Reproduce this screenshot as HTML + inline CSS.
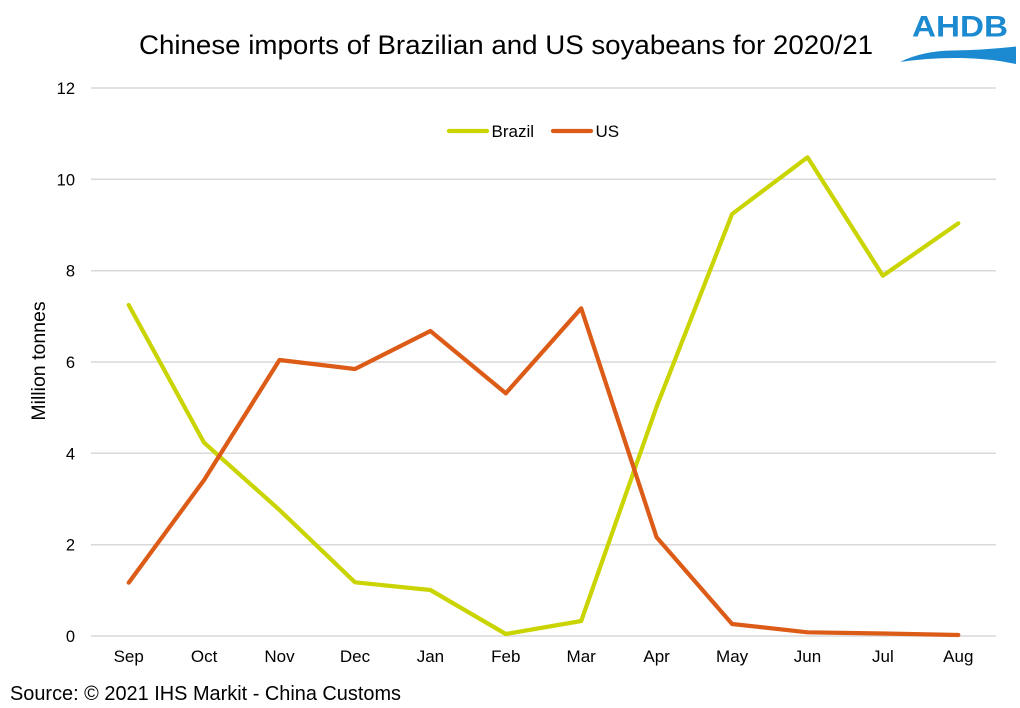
<!DOCTYPE html>
<html>
<head>
<meta charset="utf-8">
<style>
  html, body { margin: 0; padding: 0; background: #ffffff; }
  body { width: 1020px; height: 708px; overflow: hidden; }
  svg { display: block; }
  text { font-family: "Liberation Sans", Arial, sans-serif; fill: #000; }
</style>
</head>
<body>
<svg width="1020" height="708" viewBox="0 0 1020 708" xmlns="http://www.w3.org/2000/svg">
  <rect x="0" y="0" width="1020" height="708" fill="#ffffff"/>

  <!-- Title -->
  <text x="139" y="54" font-size="27" textLength="734" lengthAdjust="spacingAndGlyphs">Chinese imports of Brazilian and US soyabeans for 2020/21</text>

  <!-- Logo -->
  <text x="912" y="36.5" font-size="30" font-weight="bold" textLength="96" lengthAdjust="spacingAndGlyphs" style="fill:#1B8AD0">AHDB</text>
  <path d="M900,62 Q922,51 952,50.5 Q985,50 1016,46.5 L1016,64 Q990,58.5 962,58 Q930,57.5 900,62 Z" fill="#1B8AD0"/>

  <!-- Gridlines -->
  <g stroke="#D9D9D9" stroke-width="1.5">
    <line x1="91" y1="88" x2="996" y2="88"/>
    <line x1="91" y1="179.3" x2="996" y2="179.3"/>
    <line x1="91" y1="270.7" x2="996" y2="270.7"/>
    <line x1="91" y1="362" x2="996" y2="362"/>
    <line x1="91" y1="453.3" x2="996" y2="453.3"/>
    <line x1="91" y1="544.7" x2="996" y2="544.7"/>
    <line x1="91" y1="636" x2="996" y2="636"/>
  </g>

  <!-- Y tick labels -->
  <g font-size="16.5" text-anchor="end">
    <text x="75" y="94">12</text>
    <text x="75" y="185.3">10</text>
    <text x="75" y="276.7">8</text>
    <text x="75" y="368">6</text>
    <text x="75" y="459.3">4</text>
    <text x="75" y="550.7">2</text>
    <text x="75" y="642">0</text>
  </g>

  <!-- Y axis title -->
  <text transform="translate(45,361) rotate(-90)" font-size="19.5" text-anchor="middle">Million tonnes</text>

  <!-- X labels -->
  <g font-size="17" text-anchor="middle">
    <text x="128.7" y="662">Sep</text>
    <text x="204.1" y="662">Oct</text>
    <text x="279.5" y="662">Nov</text>
    <text x="355.0" y="662">Dec</text>
    <text x="430.4" y="662">Jan</text>
    <text x="505.8" y="662">Feb</text>
    <text x="581.2" y="662">Mar</text>
    <text x="656.6" y="662">Apr</text>
    <text x="732.1" y="662">May</text>
    <text x="807.5" y="662">Jun</text>
    <text x="882.9" y="662">Jul</text>
    <text x="958.3" y="662">Aug</text>
  </g>

  <!-- Series -->
  <polyline fill="none" stroke="#C9D400" stroke-width="4.2" stroke-linejoin="round" stroke-linecap="round"
    points="128.7,305 204.1,442.7 279.5,510 355.0,582.3 430.4,590 505.8,634 581.2,621 656.6,406.7 732.1,214 807.5,157.3 882.9,275.7 958.3,223.3"/>
  <polyline fill="none" stroke="#DC5B17" stroke-width="4.2" stroke-linejoin="round" stroke-linecap="round"
    points="128.7,582.7 204.1,480 279.5,360 355.0,369 430.4,331 505.8,393.3 581.2,308.3 656.6,537.3 732.1,624 807.5,632.3 882.9,633.5 958.3,635"/>

  <!-- Legend -->
  <line x1="449" y1="131" x2="487" y2="131" stroke="#C9D400" stroke-width="4.2" stroke-linecap="round"/>
  <text x="491.5" y="137" font-size="17">Brazil</text>
  <line x1="553" y1="131" x2="591" y2="131" stroke="#DC5B17" stroke-width="4.2" stroke-linecap="round"/>
  <text x="595.5" y="137" font-size="17">US</text>

  <!-- Source -->
  <text x="10" y="700" font-size="20" textLength="391" lengthAdjust="spacingAndGlyphs">Source: © 2021 IHS Markit - China Customs</text>
</svg>
</body>
</html>
